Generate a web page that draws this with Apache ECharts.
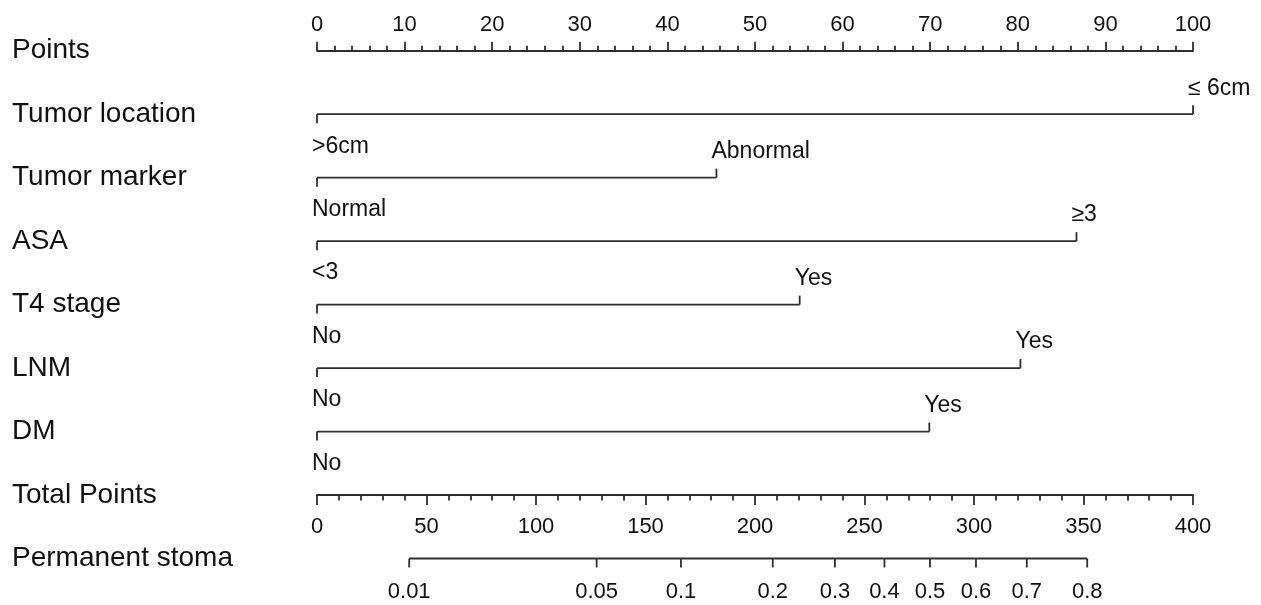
<!DOCTYPE html>
<html>
<head>
<meta charset="utf-8">
<script src="https://cdn.jsdelivr.net/npm/echarts@6/dist/echarts.min.js"></script>
<style>
  html, body { margin: 0; padding: 0; background: #ffffff; }
  #chart { width: 1261px; height: 605px; }
</style>
</head>
<body>
<div id="chart"></div>
<script>
// ---- data ----
const rowNames = ['Points', 'Tumor location', 'Tumor marker', 'ASA', 'T4 stage', 'LNM', 'DM', 'Total Points', 'Permanent stoma'];
const variables = ['Tumor location', 'Tumor marker', 'ASA', 'T4 stage', 'LNM', 'DM'];
const lowLevels = ['>6cm', 'Normal', '<3', 'No', 'No', 'No'];
const highLevels = ['\u2264 6cm', 'Abnormal', '\u22653', 'Yes', 'Yes', 'Yes'];
const lowPoints = [0, 0, 0, 0, 0, 0];
const highPoints = [100, 45.6, 86.7, 55.1, 80.3, 69.9];
const stomaLabels = ['0.01', '0.05', '0.1', '0.2', '0.3', '0.4', '0.5', '0.6', '0.7', '0.8'];
const stomaTotalPoints = [42.1, 127.7, 166.2, 208.1, 236.5, 259.1, 279.9, 300.9, 324.1, 351.7];

const FONT = '"Liberation Sans", Arial, Helvetica, sans-serif';
const INK = '#111111';
const LINE = '#2e2e2e';
const LW = 1.8;

const chart = echarts.init(document.getElementById('chart'), null, { renderer: 'canvas' });

const varData = variables.map((v, i) => [i + 1, lowPoints[i], highPoints[i], lowLevels[i], highLevels[i]]);
const stomaData = stomaTotalPoints.map((p, i) => [p, stomaLabels[i]]);

function renderVar(params, api) {
  const row = api.value(0);
  const lo = api.coord([api.value(1), row]);
  const hi = api.coord([api.value(2), row]);
  const lineStyle = { stroke: LINE, lineWidth: LW };
  const tf = { fill: INK, fontSize: 23, fontFamily: FONT, align: 'left', verticalAlign: 'middle', textAlign: 'left', textVerticalAlign: 'middle' };
  return {
    type: 'group',
    children: [
      { type: 'line', shape: { x1: lo[0], y1: lo[1], x2: hi[0], y2: hi[1] }, style: lineStyle },
      { type: 'line', shape: { x1: lo[0], y1: lo[1], x2: lo[0], y2: lo[1] + 9 }, style: lineStyle },
      { type: 'line', shape: { x1: hi[0], y1: hi[1], x2: hi[0], y2: hi[1] - 9 }, style: lineStyle },
      { type: 'text', style: Object.assign({ text: api.value(3), x: lo[0] - 5, y: lo[1] + 32 }, tf) },
      { type: 'text', style: Object.assign({ text: api.value(4), x: hi[0] - 5, y: hi[1] - 26 }, tf) }
    ]
  };
}

function renderStoma(params, api) {
  const idx = params.dataIndexInside;
  const p = api.coord([api.value(0), 8]);
  const lineStyle = { stroke: LINE, lineWidth: LW };
  const children = [
    { type: 'line', shape: { x1: p[0], y1: p[1], x2: p[0], y2: p[1] + 9 }, style: lineStyle },
    { type: 'text', style: { text: stomaLabels[idx], x: p[0], y: p[1] + 33, fill: INK, fontSize: 22, fontFamily: FONT, align: 'center', verticalAlign: 'middle', textAlign: 'center', textVerticalAlign: 'middle' } }
  ];
  if (idx === 0) {
    const q = api.coord([stomaTotalPoints[stomaTotalPoints.length - 1], 8]);
    children.push({ type: 'line', shape: { x1: p[0], y1: p[1], x2: q[0], y2: q[1] }, style: lineStyle });
  }
  return { type: 'group', children: children };
}

const option = {
  backgroundColor: '#ffffff',
  animation: false,
  grid: [
    { left: 317, top: 50.7, width: 876, height: 507.8, containLabel: false },
    { left: 317, top: 431.6, width: 876, height: 63.45, containLabel: false }
  ],
  xAxis: [
    {
      gridIndex: 0, type: 'value', position: 'top', min: 0, max: 100, interval: 10,
      axisLine: { show: true, lineStyle: { color: LINE, width: LW } },
      axisTick: { show: true, length: 9, lineStyle: { color: LINE, width: LW } },
      minorTick: { show: true, splitNumber: 5, length: 5, lineStyle: { color: LINE, width: LW } },
      axisLabel: { show: true, margin: 15, color: INK, fontSize: 22, fontFamily: FONT },
      splitLine: { show: false }, minorSplitLine: { show: false }
    },
    {
      gridIndex: 1, type: 'value', position: 'bottom', min: 0, max: 400, interval: 50,
      axisLine: { show: true, lineStyle: { color: LINE, width: LW } },
      axisTick: { show: true, length: 10, lineStyle: { color: LINE, width: LW } },
      minorTick: { show: true, splitNumber: 5, length: 5.5, lineStyle: { color: LINE, width: LW } },
      axisLabel: { show: true, margin: 21, color: INK, fontSize: 22, fontFamily: FONT },
      splitLine: { show: false }, minorSplitLine: { show: false }
    }
  ],
  yAxis: [
    {
      gridIndex: 0, type: 'value', inverse: true, min: 0, max: 8, interval: 1,
      axisLine: { show: false }, axisTick: { show: false }, splitLine: { show: false },
      axisLabel: {
        show: true, align: 'left', margin: 305, color: INK, fontSize: 28, fontFamily: FONT,
        padding: [6, 0, 0, 0],
        formatter: function (v) { return rowNames[Math.round(v)] || ''; }
      }
    },
    {
      gridIndex: 1, type: 'value', inverse: true, min: 6, max: 7, interval: 1, show: false
    }
  ],
  series: [
    {
      type: 'custom', xAxisIndex: 0, yAxisIndex: 0, clip: false, silent: true,
      renderItem: renderVar, data: varData
    },
    {
      type: 'custom', xAxisIndex: 1, yAxisIndex: 1, clip: false, silent: true,
      renderItem: renderStoma, data: stomaData
    }
  ]
};

chart.setOption(option);
</script>
</body>
</html>
